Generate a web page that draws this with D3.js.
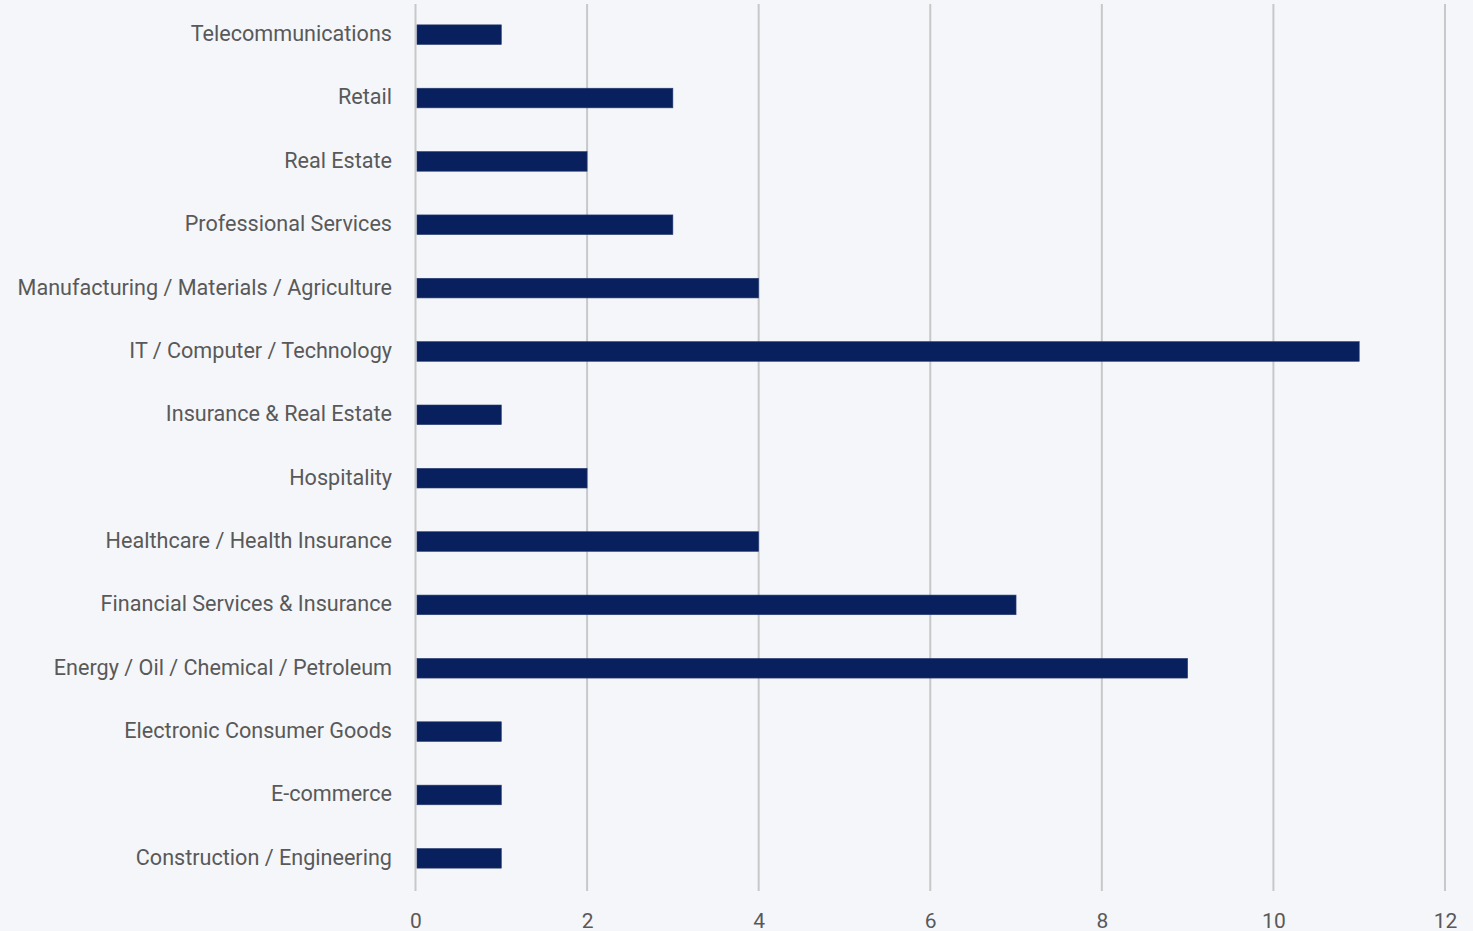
<!DOCTYPE html>
<html>
<head>
<meta charset="utf-8">
<script src="https://cdn.jsdelivr.net/npm/d3@7"></script>
<style>
  html, body { margin: 0; padding: 0; background: #f4f6fa; }
  svg { display: block; }
</style>
</head>
<body>
<svg id="chart" width="1473" height="931"></svg>
<script>
// Industries, listed top to bottom
const categories = [
  "Telecommunications",
  "Retail",
  "Real Estate",
  "Professional Services",
  "Manufacturing / Materials / Agriculture",
  "IT / Computer / Technology",
  "Insurance & Real Estate",
  "Hospitality",
  "Healthcare / Health Insurance",
  "Financial Services & Insurance",
  "Energy / Oil / Chemical / Petroleum",
  "Electronic Consumer Goods",
  "E-commerce",
  "Construction / Engineering"
];
const counts = [1, 3, 2, 3, 4, 11, 1, 2, 4, 7, 9, 1, 1, 1];
const tickValues = [0, 2, 4, 6, 8, 10, 12];

const svg = d3.select("#chart");
const margin = { left: 415.5, right: 28, top: 4, bottom: 40 };
const W = 1473, H = 931;
const labelFont = "Roboto, 'Open Sans', sans-serif";

const x = d3.scaleLinear().domain([0, 12]).range([margin.left, W - margin.right]);
const y = d3.scaleBand().domain(categories).range([margin.top, H - margin.bottom]).paddingInner(0.69).paddingOuter(0.345);

// vertical gridlines
svg.append("g")
  .selectAll("line")
  .data(tickValues)
  .join("line")
  .attr("x1", d => x(d)).attr("x2", d => x(d))
  .attr("y1", margin.top).attr("y2", H - margin.bottom)
  .attr("stroke", "#c8c8c8")
  .attr("stroke-width", 2);

// bars
svg.append("g")
  .selectAll("rect")
  .data(categories)
  .join("rect")
  .attr("x", x(0) + 1.5)
  .attr("y", d => y(d) - 1)
  .attr("width", (d, i) => x(counts[i]) - x(0) - 1.5)
  .attr("height", y.bandwidth())
  .attr("fill", "#08215e")
  .attr("stroke", "#2a3c70")
  .attr("stroke-width", 0.6);

// x axis labels (the bottom row runs off the lower edge)
const xAxis = d3.axisBottom(x).tickValues(tickValues).tickSize(0).tickPadding(0);
const gx = svg.append("g").attr("transform", `translate(0, ${H - margin.bottom})`).call(xAxis);
gx.select(".domain").remove();
gx.selectAll("text")
  .attr("dy", "0")
  .attr("y", 37)
  .attr("fill", "#595959")
  .style("font-family", labelFont)
  .style("font-size", "21px");

// category labels
const yAxis = d3.axisLeft(y).tickSize(0).tickPadding(0);
const gy = svg.append("g").attr("transform", `translate(392, -1.5)`).call(yAxis);
gy.select(".domain").remove();
gy.selectAll("text")
  .attr("fill", "#595959")
  .attr("dy", "0.32em")
  .style("font-family", labelFont)
  .style("font-size", "21.6px");
</script>
</body>
</html>
